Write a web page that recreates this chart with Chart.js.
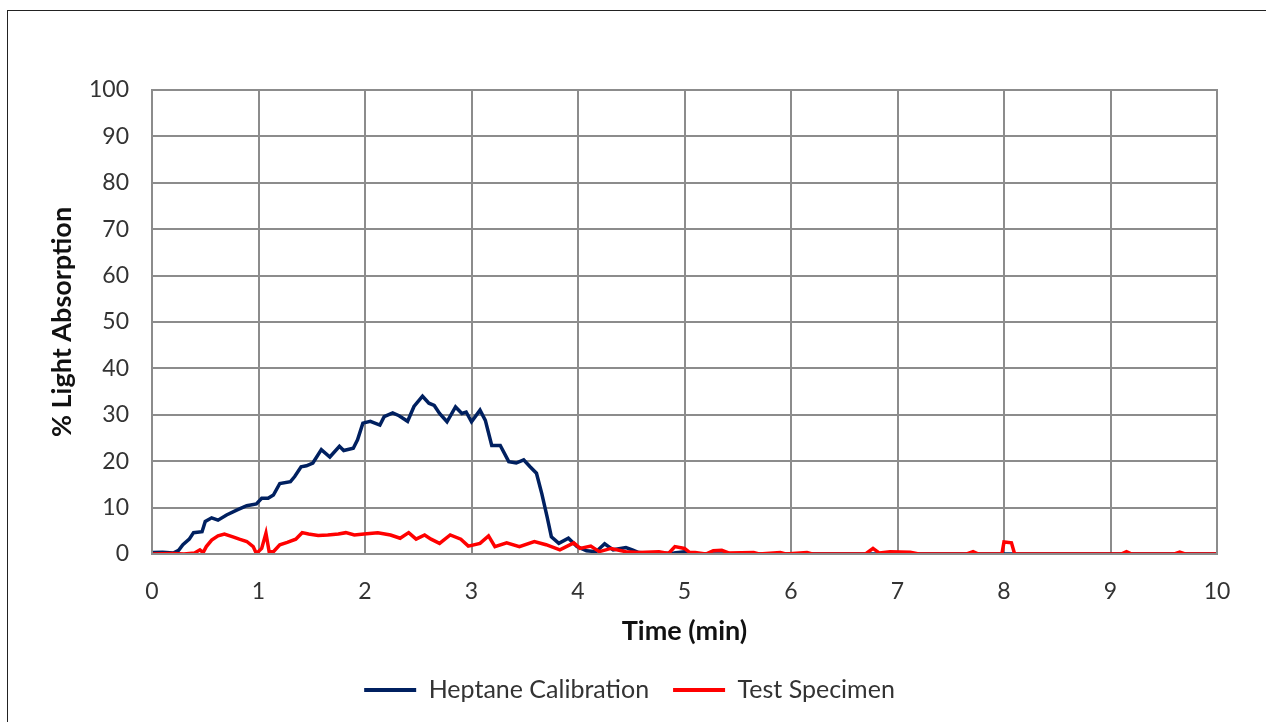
<!DOCTYPE html>
<html>
<head>
<meta charset="utf-8">
<script src="https://cdn.jsdelivr.net/npm/chart.js@4/dist/chart.umd.min.js"></script>
<style>
  body { margin: 0; background: #fff; overflow: hidden; }
  #frame { position: absolute; left: 7px; top: 10px; width: 1270px; height: 730px; border: 1.5px solid #222; box-sizing: border-box; }
  #chart { position: absolute; left: 0; top: 0; }
</style>
</head>
<body>
<div id="frame"></div>
<canvas id="chart" width="1266" height="722"></canvas>
<script>
// time (min) / % light absorption
var heptaneTime = [0,0.1,0.2,0.25,0.29,0.35,0.39,0.47,0.5,0.56,0.62,0.7,0.8,0.89,0.98,1.03,1.09,1.14,1.2,1.3,1.34,1.4,1.45,1.51,1.59,1.67,1.76,1.8,1.89,1.93,1.98,2.05,2.14,2.18,2.26,2.32,2.4,2.46,2.54,2.6,2.65,2.7,2.77,2.85,2.91,2.95,3.0,3.08,3.13,3.19,3.27,3.35,3.42,3.49,3.55,3.61,3.66,3.71,3.75,3.82,3.91,3.99,4.08,4.17,4.25,4.33,4.45,4.51,4.57,4.7,4.9,5.0,5.1,6,7,8,9,10];
var heptane = [0.3,0.4,0.2,0.8,2,3.2,4.6,4.8,7,7.8,7.3,8.4,9.5,10.4,10.8,12,12,12.7,15.2,15.6,16.7,18.8,19,19.6,22.5,20.9,23.2,22.3,22.8,24.6,28.2,28.6,27.8,29.6,30.4,29.8,28.6,31.8,34,32.5,32,30.3,28.5,31.7,30.3,30.6,28.5,31,28.8,23.4,23.4,19.9,19.6,20.3,18.8,17.4,13,8,3.7,2.3,3.4,1.6,0.7,0.5,2.2,0.9,1.4,0.9,0.3,0.1,0.2,0.5,0,0,0,0,0,0];

var specimenTime = [0,0.2,0.3,0.4,0.45,0.48,0.51,0.56,0.62,0.68,0.76,0.82,0.89,0.95,0.98,1.03,1.07,1.1,1.14,1.2,1.27,1.35,1.41,1.47,1.56,1.65,1.75,1.82,1.9,1.99,2.12,2.24,2.33,2.41,2.48,2.56,2.62,2.7,2.8,2.9,2.97,3.08,3.16,3.22,3.33,3.45,3.59,3.7,3.83,3.96,4.02,4.12,4.2,4.31,4.45,4.57,4.76,4.85,4.91,5.0,5.05,5.1,5.2,5.27,5.35,5.42,5.65,5.7,5.9,5.95,6.15,6.2,6.7,6.77,6.83,6.93,7.12,7.2,7.65,7.71,7.76,7.98,8.0,8.07,8.1,9.1,9.15,9.2,9.6,9.65,9.7,10];
var specimen = [0,0.1,0,0.2,0.9,0.3,1.6,3,3.9,4.3,3.7,3.2,2.7,1.6,0.1,1.2,4.5,0.5,0.5,2,2.5,3.2,4.6,4.3,4,4.1,4.3,4.6,4.1,4.3,4.6,4.1,3.4,4.6,3.2,4.1,3.2,2.3,4.1,3.2,1.7,2.3,3.9,1.6,2.4,1.6,2.7,2,0.9,2.4,1.2,1.7,0.5,1.2,0.5,0.3,0.5,0.1,1.6,1.2,0.3,0.3,0,0.7,0.8,0.2,0.3,0,0.3,0,0.3,0,0,1.2,0.2,0.5,0.4,0,0,0.5,0,0,2.6,2.4,0,0,0.5,0,0,0.4,0,0];

var seriesNames = ["Heptane Calibration", "Test Specimen"];
var seriesColors = ["#002060", "#ff0000"];
var xTitle = "Time (min)";
var yTitle = "% Light Absorption";

function toPoints(xs, ys){
  var pts = [];
  for (var i = 0; i < xs.length; i++){
    pts.push({x: xs[i], y: ys[i]});
  }
  return pts;
}

var gridColor = '#8c8c8c';
var font = 'Lato, "Open Sans", sans-serif';

var chart = new Chart(document.getElementById('chart'), {
  type: 'line',
  data: {
    datasets: [{
      label: seriesNames[0],
      data: toPoints(heptaneTime, heptane),
      borderColor: seriesColors[0],
      backgroundColor: seriesColors[0],
      borderWidth: 3.5,
      pointRadius: 0,
      tension: 0,
      order: 2
    },{
      label: seriesNames[1],
      data: toPoints(specimenTime, specimen),
      borderColor: seriesColors[1],
      backgroundColor: seriesColors[1],
      borderWidth: 3.5,
      pointRadius: 0,
      tension: 0,
      order: 1
    }]
  },
  options: {
    responsive: false,
    animation: false,
    layout: { padding: { left: 42, right: 49, top: 90, bottom: 9.5 } },
    plugins: {
      tooltip: { enabled: false },
      legend: {
        position: 'bottom',
        labels: {
          font: { family: font, size: 25 },
          color: '#333',
          boxWidth: 52,
          boxHeight: 4,
          padding: 24,
          sort: function(a, b){ return a.datasetIndex - b.datasetIndex; },
          generateLabels: function(c){
            var items = Chart.defaults.plugins.legend.labels.generateLabels(c);
            items.forEach(function(it){ it.lineWidth = 0; });
            return items;
          }
        }
      }
    },
    scales: {
      x: {
        type: 'linear',
        min: 0, max: 10,
        ticks: { stepSize: 1, padding: 24, color: '#333', font: { family: font, size: 23 } },
        grid: { color: gridColor, lineWidth: 2, drawTicks: false },
        border: { color: gridColor, width: 2 },
        title: { display: true, text: xTitle, color: '#111', font: { family: font, size: 27, weight: 'bold' }, padding: { top: 4, bottom: 6 } },
        afterFit: function(s){ s.height = 99.5; }
      },
      y: {
        min: 0, max: 100,
        ticks: { stepSize: 10, padding: 23, color: '#333', font: { family: font, size: 23 } },
        grid: { color: gridColor, lineWidth: 2, drawTicks: false },
        border: { color: gridColor, width: 2 },
        title: { display: true, text: yTitle, color: '#111', font: { family: font, size: 27, weight: 'bold' }, padding: { top: 4, bottom: 4 } },
        afterFit: function(s){ s.width = 110; }
      }
    }
  },
  plugins: [{
    id: 'plotFrame',
    afterDraw: function(c){
      var a = c.chartArea, ctx = c.ctx;
      ctx.save();
      ctx.strokeStyle = gridColor;
      ctx.lineWidth = 2;
      ctx.strokeRect(a.left, a.top, a.right - a.left, a.bottom - a.top);
      ctx.restore();
    }
  }]
});
</script>
</body>
</html>
